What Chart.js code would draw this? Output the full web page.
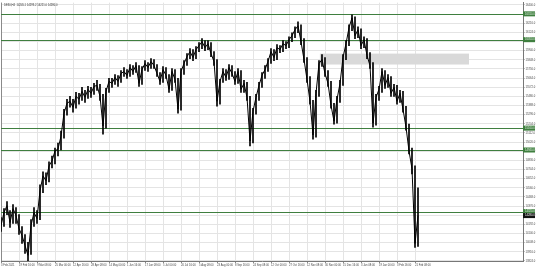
<!DOCTYPE html>
<html>
<head>
<meta charset="utf-8">
<script src="https://cdn.jsdelivr.net/npm/chart.js@4.4.1/dist/chart.umd.min.js"></script>
<style>
html, body { margin: 0; padding: 0; background: #fff; }
#wrap { width: 536px; height: 269px; position: relative; }
</style>
</head>
<body>
<div id="wrap"><canvas id="grafico"></canvas></div>
<script>
// DE30 H4 - precos (um ponto a cada 3 px)
const fechamentos = [
    14180, 14310, 14380, 14210, 14350, 14280, 14150, 14080, 13980, 13880,
    14180, 14310, 14250, 14530, 14680, 14630, 14780, 14830, 14930, 14950,
    15080, 15310, 15410, 15430, 15370, 15480, 15450, 15530, 15470, 15550,
    15510, 15580, 15590, 15480, 15180, 15530, 15630, 15610, 15670, 15630,
    15710, 15730, 15690, 15770, 15730, 15790, 15610, 15750, 15810, 15770,
    15830, 15790, 15710, 15630, 15750, 15690, 15550, 15730, 15650, 15350,
    15730, 15810, 15880, 15930, 15870, 15950, 15990, 16030, 15970, 16010,
    15910, 15830, 15430, 15630, 15730, 15670, 15770, 15710, 15630, 15730,
    15550, 15610, 15470, 15030, 15330, 15470, 15590, 15690, 15750, 15830,
    15930, 15870, 15970, 15950, 16010, 15990, 16050, 16090, 16150, 16190,
    16030, 15850, 15650, 15430, 15090, 15510, 15810, 15850, 15710, 15610,
    15390, 15230, 15450, 15610, 15870, 16010, 16170, 16270, 16090, 16150,
    15990, 16050, 15890, 15790, 15210, 15470, 15550, 15730, 15590, 15670,
    15510, 15570, 15430, 15510, 15350, 15170, 14930, 14750, 14000, 14280
];

const maximas = [
    14260, 14350, 14420, 14330, 14390, 14360, 14290, 14170, 14090, 14010,
    14240, 14360, 14330, 14590, 14720, 14710, 14820, 14880, 14960, 15010,
    15130, 15350, 15450, 15480, 15450, 15520, 15510, 15570, 15540, 15580,
    15570, 15610, 15640, 15600, 15500, 15560, 15660, 15660, 15700, 15690,
    15740, 15770, 15750, 15800, 15790, 15820, 15790, 15780, 15840, 15820,
    15860, 15850, 15800, 15720, 15780, 15770, 15700, 15760, 15750, 15660,
    15760, 15840, 15910, 15960, 15950, 15980, 16020, 16060, 16040, 16040,
    16020, 15930, 15850, 15650, 15760, 15750, 15800, 15790, 15730, 15760,
    15740, 15640, 15620, 15480, 15360, 15500, 15620, 15720, 15790, 15860,
    15960, 15950, 16000, 15990, 16040, 16030, 16080, 16120, 16180, 16230,
    16200, 16060, 15870, 15680, 15440, 15540, 15840, 15900, 15870, 15740,
    15630, 15410, 15480, 15640, 15900, 16040, 16200, 16300, 16280, 16180,
    16160, 16080, 16060, 15920, 15820, 15500, 15580, 15760, 15740, 15700,
    15680, 15600, 15590, 15540, 15530, 15380, 15200, 14960, 14780, 14560
];

const minimas = [
    14120, 14170, 14290, 14160, 14200, 14200, 14090, 14000, 13900, 13820,
    13890, 14170, 14200, 14240, 14510, 14590, 14620, 14760, 14800, 14880,
    14940, 15060, 15290, 15370, 15320, 15360, 15400, 15440, 15420, 15460,
    15470, 15500, 15540, 15440, 15100, 15160, 15520, 15570, 15600, 15580,
    15620, 15680, 15660, 15680, 15700, 15720, 15580, 15600, 15740, 15730,
    15760, 15760, 15680, 15600, 15620, 15660, 15520, 15540, 15620, 15310,
    15340, 15700, 15790, 15860, 15840, 15860, 15930, 15960, 15940, 15950,
    15880, 15790, 15380, 15400, 15620, 15640, 15650, 15680, 15600, 15610,
    15520, 15520, 15440, 14980, 15010, 15300, 15440, 15570, 15660, 15730,
    15810, 15840, 15850, 15920, 15930, 15960, 15970, 16030, 16070, 16120,
    16000, 15820, 15620, 15400, 15050, 15070, 15480, 15780, 15680, 15580,
    15360, 15200, 15210, 15420, 15590, 15850, 15990, 16140, 16060, 16070,
    15960, 15970, 15860, 15760, 15170, 15190, 15440, 15520, 15560, 15570,
    15480, 15480, 15400, 15420, 15320, 15140, 14900, 14700, 13960, 13970
];

const datas = [
    '3 Feb 2021', '19 Feb 16:00', '9 Mar 08:00', '25 Mar 00:00', '12 Apr 16:00',
    '28 Apr 08:00', '14 May 00:00', '1 Jun 16:00', '17 Jun 08:00', '5 Jul 00:00',
    '20 Jul 16:00', '5 Aug 08:00', '23 Aug 00:00', '8 Sep 16:00', '24 Sep 08:00',
    '12 Oct 00:00', '27 Oct 16:00', '12 Nov 08:00', '30 Nov 00:00', '15 Dec 16:00',
    '3 Jan 08:00', '19 Jan 00:00', '3 Feb 16:00', '21 Feb 08:00'
];

const yTicks = [
    16400, 16308, 16216, 16124, 16032, 15940, 15848, 15756, 15664, 15572,
    15480, 15388, 15296, 15204, 15112, 15020, 14928, 14836, 14744, 14652,
    14560, 14468, 14376, 14284, 14192, 14100, 14008, 13916, 13824
];

const niveis = [16310, 16050, 15160, 14940, 14320];
const precoAtual = 14280;
// zona cinza: barras inicial/final e faixa de preco
const zonaBarras = [106.3, 156];
const zonaPrecos = [15800, 15910];
const titulo = 'DE30,H4  14245.1 14293.2 14221.0 14280.0';

const fonte = { family: 'Liberation Sans', size: 2.7 };

const pluginNiveis = {
    id: 'niveis',
    beforeDatasetsDraw(chart) {
        const { ctx, chartArea, scales } = chart;
        ctx.save();
        // zona
        const x1 = scales.x.getPixelForValue(zonaBarras[0]);
        const x2 = scales.x.getPixelForValue(zonaBarras[1]);
        const y1 = scales.y.getPixelForValue(zonaPrecos[1]);
        const y2 = scales.y.getPixelForValue(zonaPrecos[0]);
        ctx.fillStyle = '#d9d9d9';
        ctx.fillRect(x1, y1, x2 - x1, y2 - y1);

        // borda esquerda
        ctx.strokeStyle = '#8a8a8a';
        ctx.lineWidth = 1;
        ctx.beginPath();
        ctx.moveTo(chartArea.left + 0.5, chartArea.top);
        ctx.lineTo(chartArea.left + 0.5, chartArea.bottom);
        ctx.stroke();

        // linhas verdes
        ctx.strokeStyle = '#3f7f3f';
        ctx.lineWidth = 1;
        niveis.forEach(n => {
            const y = Math.round(scales.y.getPixelForValue(n)) + 0.5;
            ctx.beginPath();
            ctx.moveTo(chartArea.left, y);
            ctx.lineTo(chartArea.right, y);
            ctx.stroke();
        });
        ctx.restore();
    },
    afterDraw(chart) {
        const { ctx, chartArea, scales } = chart;
        ctx.save();
        ctx.font = fonte.size + 'px ' + fonte.family;
        ctx.textBaseline = 'middle';
        ctx.textAlign = 'left';

        niveis.forEach(n => {
            const y = scales.y.getPixelForValue(n);
            ctx.fillStyle = '#3f7f3f';
            ctx.fillRect(chartArea.right, y - 2.5, 12, 5);
            ctx.fillStyle = '#e8f3e8';
            ctx.fillText(n.toFixed(1), chartArea.right + 2, y);
        });

        const ya = scales.y.getPixelForValue(precoAtual);
        ctx.fillStyle = '#111';
        ctx.fillRect(chartArea.right, ya - 2.5, 12, 5);
        ctx.fillStyle = '#fff';
        ctx.fillText(precoAtual.toFixed(1), chartArea.right + 2, ya);

        ctx.fillStyle = '#333';
        ctx.fillText(titulo, chartArea.left + 3, chartArea.top + 3);
        ctx.restore();
    }
};

new Chart(document.getElementById('grafico'), {
    type: 'line',
    data: {
        datasets: [{
            type: 'line',
            data: fechamentos.map((p, i) => ({ x: i, y: p })),
            borderColor: '#000',
            borderWidth: 1,
            pointRadius: 0,
            tension: 0,
            fill: false
        }, {
            type: 'bar',
            data: fechamentos.map((p, i) => ({ x: i, y: [minimas[i], maximas[i]] })),
            backgroundColor: '#000',
            borderWidth: 0,
            barThickness: 1
        }]
    },
    options: {
        responsive: true,
        maintainAspectRatio: false,
        animation: false,
        layout: { padding: { top: 1, left: 1, right: 0, bottom: 0 } },
        plugins: {
            legend: { display: false },
            tooltip: { enabled: false }
        },
        scales: {
            x: {
                type: 'linear',
                offset: false,
                min: 0,
                max: 174,
                afterBuildTicks: scale => {
                    scale.ticks = datas.map((d, k) => ({ value: k * 6 }));
                },
                afterFit: scale => { scale.height = 8; },
                grid: { offset: false, color: '#e4e4e4', lineWidth: 1, tickLength: 2, tickColor: '#888' },
                border: { color: '#777', width: 1 },
                ticks: {
                    autoSkip: false,
                    maxRotation: 0,
                    align: 'start',
                    padding: 1,
                    color: '#444',
                    font: fonte,
                    callback: (v, i) => datas[i]
                }
            },
            y: {
                position: 'right',
                min: 13823,
                max: 16423,
                afterBuildTicks: scale => {
                    scale.ticks = yTicks.map(v => ({ value: v }));
                },
                afterFit: scale => { scale.width = 13; },
                grid: { color: '#e4e4e4', lineWidth: 1, tickLength: 1.5, tickColor: '#888' },
                border: { color: '#777', width: 1 },
                ticks: {
                    autoSkip: false,
                    padding: 1,
                    color: '#444',
                    font: fonte,
                    callback: (v, i) => yTicks[i].toFixed(1)
                }
            }
        }
    },
    plugins: [pluginNiveis]
});
</script>
</body>
</html>
